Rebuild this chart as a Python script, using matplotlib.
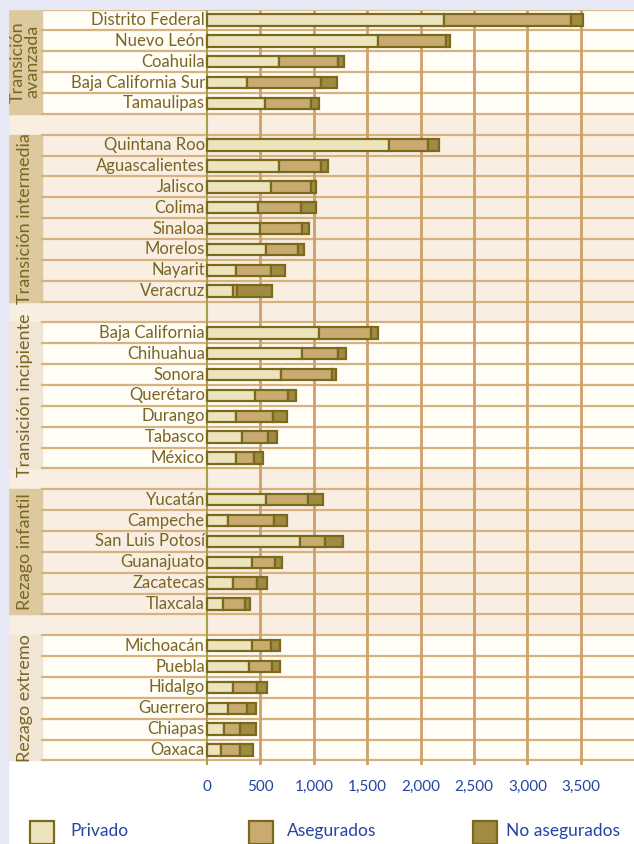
import matplotlib
matplotlib.use('Agg')
from matplotlib import pyplot as plt
from matplotlib.patches import Rectangle

# gasto en salud per capita por estado (privado / asegurados / no asegurados)
groups = ['Transición\navanzada', 'Transición intermedia', 'Transición incipiente',
          'Rezago infantil', 'Rezago extremo']

states = [
    ['Distrito Federal', 'Nuevo León', 'Coahuila', 'Baja California Sur', 'Tamaulipas'],
    ['Quintana Roo', 'Aguascalientes', 'Jalisco', 'Colima', 'Sinaloa', 'Morelos',
     'Nayarit', 'Veracruz'],
    ['Baja California', 'Chihuahua', 'Sonora', 'Querétaro', 'Durango', 'Tabasco', 'México'],
    ['Yucatán', 'Campeche', 'San Luis Potosí', 'Guanajuato', 'Zacatecas', 'Tlaxcala'],
    ['Michoacán', 'Puebla', 'Hidalgo', 'Guerrero', 'Chiapas', 'Oaxaca'],
]

privado = [
    [2220, 1600, 675, 370, 545],
    [1700, 675, 595, 475, 500, 550, 270, 245],
    [1050, 890, 695, 445, 270, 325, 270],
    [550, 200, 875, 420, 245, 150],
    [420, 395, 245, 200, 160, 130],
]
asegurados = [
    [1190, 640, 555, 700, 430],
    [370, 390, 375, 405, 385, 300, 330, 40],
    [485, 340, 480, 310, 350, 250, 170],
    [400, 430, 230, 215, 225, 210],
    [175, 210, 220, 170, 145, 175],
]
no_asegurados = [
    [110, 35, 50, 150, 70],
    [105, 70, 55, 140, 70, 60, 130, 320],
    [65, 70, 30, 75, 130, 80, 85],
    [135, 120, 170, 70, 90, 45],
    [85, 75, 95, 90, 155, 130],
]

ticks = [0, 500, 1000, 1500, 2000, 2500, 3000, 3500]
tick_labels = ['0', '500', '1,000', '1,500', '2,000', '2,500', '3,000', '3,500']

FONT = ['Lato', 'DejaVu Sans']
OLIVE = '#7a6522'
EDGE = '#7a6a1c'
BLUE = '#2444a4'
C_PRIV = '#ede4bd'
C_ASEG = '#c9ab72'
C_NOAS = '#a18a42'

fig = plt.figure(figsize=(6.34, 8.44), dpi=100)
fig.patch.set_facecolor('white')
# lavender strips on top and left
fig.patches.append(Rectangle((0, 0), 8 / 634, 1, transform=fig.transFigure,
                             color='#e6e9f5', zorder=0))
fig.patches.append(Rectangle((0, 1 - 9 / 844), 1, 9 / 844, transform=fig.transFigure,
                             color='#e6e9f5', zorder=0))

ax = fig.add_axes([8 / 634, 1 - 765 / 844, 1 - 8 / 634, (765 - 9) / 844])
units = 500 / 53.4  # data units per pixel
xmin = -(207 - 8) * units
xmax = (634 - 207) * units
band_right = -(207 - 42) * units
ax.set_xlim(xmin, xmax)
ax.set_ylim(35.72, -0.53)

slot = 0
for g, names in enumerate(states):
    first = slot
    row_bg = '#fffdf6' if g % 2 == 0 else '#f8eee2'
    for i, name in enumerate(names):
        y = slot
        ax.add_patch(Rectangle((band_right, y - 0.5), xmax - band_right, 1,
                               color=row_bg, zorder=0))
        p = privado[g][i]
        a = asegurados[g][i]
        n = no_asegurados[g][i]
        ax.barh(y, p, height=0.55, color=C_PRIV, edgecolor=EDGE, lw=1.6, zorder=3)
        ax.barh(y, a, left=p, height=0.55, color=C_ASEG, edgecolor=EDGE, lw=1.6, zorder=3)
        ax.barh(y, n, left=p + a, height=0.55, color=C_NOAS, edgecolor=EDGE, lw=1.6, zorder=3)
        ax.text(-20, y, name, ha='right', va='center', fontsize=12, color=OLIVE,
                family=FONT, zorder=4)
        slot += 1
    last = slot - 1
    band_col = '#f1e6d6' if (g % 2 == 0 and g > 0) else '#dcc99e'
    ax.add_patch(Rectangle((xmin, first - 0.5), band_right - xmin, last - first + 1,
                           color=band_col, zorder=1))
    ax.text((xmin + band_right) / 2, (first + last) / 2, groups[g], rotation=90,
            ha='center', va='center', fontsize=13, color=OLIVE, family=FONT,
            linespacing=0.85, zorder=4)
    if g < len(states) - 1:
        ax.add_patch(Rectangle((xmin, slot - 0.5), xmax - xmin, 1,
                               color='#f8eee2', zorder=0))
        slot += 1

# horizontal row separators
for k in range(slot + 1):
    ax.axhline(k - 0.5, xmin=(band_right - xmin) / (xmax - xmin), color='#d8b27e',
               lw=1.6, zorder=2)

# vertical gridlines
for t in ticks[1:]:
    ax.axvline(t, color='#cfa06a', lw=2, zorder=2)
ax.axvline(0, color='#a9a048', lw=1.5, zorder=2)

ax.set_xticks(ticks)
ax.set_xticklabels(tick_labels, color=BLUE, fontsize=11, family=FONT)
ax.tick_params(axis='x', length=0, pad=11)
ax.set_yticks([])
for s in ax.spines.values():
    s.set_visible(False)

# legend
leg_items = [('Privado', C_PRIV, 30, 70), ('Asegurados', C_ASEG, 249, 287),
             ('No asegurados', C_NOAS, 473, 506)]
for label, col, xs, xt in leg_items:
    fig.patches.append(Rectangle((xs / 634, 0), 24 / 634, 23 / 844,
                                 transform=fig.transFigure, facecolor=col,
                                 edgecolor=EDGE, lw=1.6))
    fig.text(xt / 634, 1 - 831 / 844, label, color=BLUE, fontsize=12.5,
             family=FONT, va='center', ha='left')

fig.savefig('out.png', dpi=100)
